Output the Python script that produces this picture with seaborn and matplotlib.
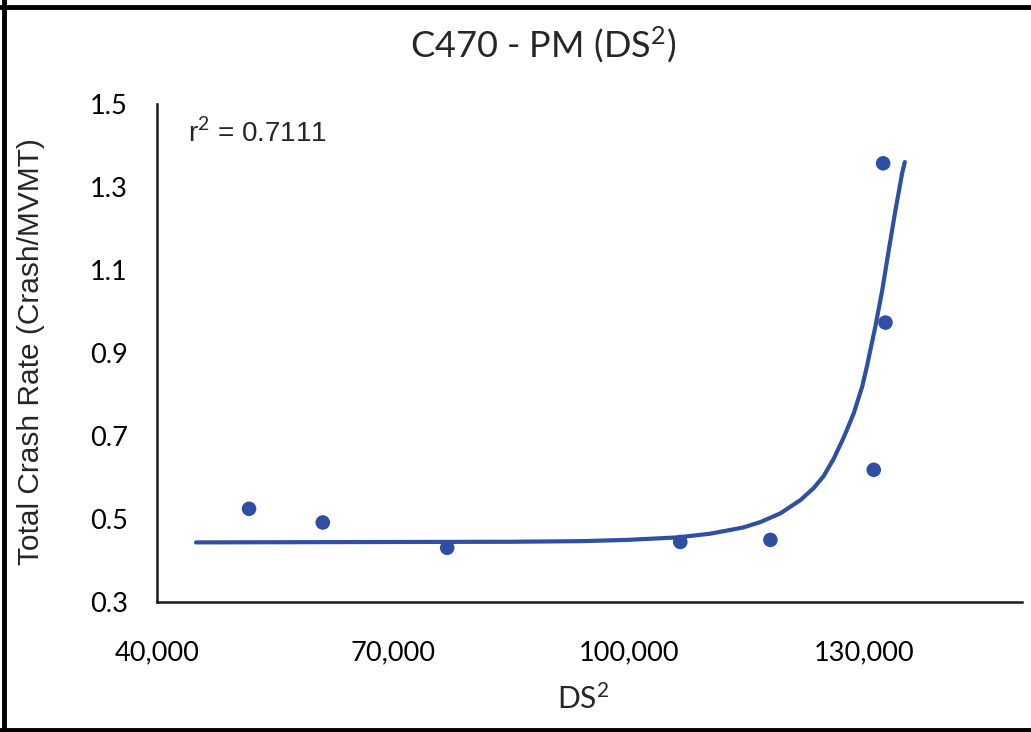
import numpy as np
import pandas as pd
import matplotlib
matplotlib.use("Agg")
import matplotlib.pyplot as plt
import matplotlib.ticker as mticker
from matplotlib.lines import Line2D
import seaborn as sns

BLUE = "#2F4FA2"

# observed points (DS^2 vs crash rate)
ds2 = [51710, 61090, 76915, 106570, 118030, 131180, 132670, 132375]
crash_rate = [0.524, 0.491, 0.430, 0.444, 0.449, 0.618, 0.973, 1.357]

# fitted curve
curve_x = [44960, 70930, 85000, 94000, 99830, 106190, 110390, 114590, 116760,
           119300, 121850, 123540, 124810, 126090, 127360, 128630, 129700,
           130340, 131400, 132250, 133090, 133940, 134790, 135130]
curve_y = [0.443, 0.444, 0.4445, 0.446, 0.449, 0.455, 0.464, 0.479, 0.492,
           0.513, 0.545, 0.574, 0.603, 0.645, 0.696, 0.754, 0.818,
           0.870, 0.965, 1.050, 1.148, 1.244, 1.333, 1.360]

title = "C470 - PM (DS$^{2}$)"
x_label = "DS$^{2}$"
y_label = "Total Crash Rate (Crash/MVMT)"
r2_text = "r$^{2}$ = 0.7111"

sns.set_style("white")
plt.rcParams["font.family"] = ["Lato", "DejaVu Sans"]
plt.rcParams["mathtext.fontset"] = "custom"
plt.rcParams["mathtext.rm"] = "Lato"
plt.rcParams["mathtext.it"] = "Lato"

W, H = 1031, 732
fig = plt.figure(figsize=(W / 100, H / 100), dpi=100)
ax = fig.add_axes([157 / W, 1 - 601.7 / H, (1021.7 - 157) / W, (601.7 - 104) / H])

pts = pd.DataFrame({"ds2": ds2, "rate": crash_rate})
fit = pd.DataFrame({"ds2": curve_x, "rate": curve_y})

sns.lineplot(data=fit, x="ds2", y="rate", color=BLUE, linewidth=3.0,
             solid_capstyle="round", solid_joinstyle="round", ax=ax)
sns.scatterplot(data=pts, x="ds2", y="rate", color=BLUE, s=110,
                edgecolor="none", ax=ax, zorder=3)

ax.set_xlim(40000, 150000)
ax.set_ylim(0.3, 1.5)
ax.xaxis.set_major_locator(mticker.MultipleLocator(10000))
ax.yaxis.set_major_locator(mticker.MultipleLocator(0.1))
ax.xaxis.set_major_formatter(mticker.FuncFormatter(
    lambda v, p: f"{v:,.0f}" if round(v - 40000) % 30000 == 0 else ""))
ax.yaxis.set_major_formatter(mticker.FuncFormatter(
    lambda v, p: f"{v:.1f}" if round((v - 0.3) * 10) % 2 == 0 else ""))

for s in ["top", "right"]:
    ax.spines[s].set_visible(False)
for s in ["left", "bottom"]:
    ax.spines[s].set_linewidth(1.8)
    ax.spines[s].set_color("#1a1a1a")

ax.tick_params(axis="both", direction="in", length=6, width=1.5,
               color="#1a1a1a", labelsize=19.5, labelcolor="black")
ax.tick_params(axis="x", pad=28)
ax.tick_params(axis="y", pad=21)

ax.set_xlabel("")
ax.set_ylabel("")

fig.text(31 / W, 1 - 352 / H, y_label, rotation=90, ha="center", va="center",
         fontsize=21.5, family=["Liberation Sans", "DejaVu Sans"])
fig.text(583 / W, 1 - 699 / H, x_label, ha="center", va="center", fontsize=21.5)
fig.text(543 / W, 1 - 45 / H, title, ha="center", va="center", fontsize=26)
fig.text(188 / W, 1 - 133 / H, r2_text, ha="left", va="center", fontsize=20,
         family=["Liberation Sans", "DejaVu Sans"])

# outer frame (top, left, bottom)
for xs, ys in [([0, 1], [1 - 7 / H] * 2), ([3.5 / W] * 2, [0, 1]),
               ([0, 1], [2.5 / H] * 2)]:
    fig.add_artist(Line2D(xs, ys, transform=fig.transFigure, color="black",
                          linewidth=3.5))

fig.savefig("out.png", dpi=100)
